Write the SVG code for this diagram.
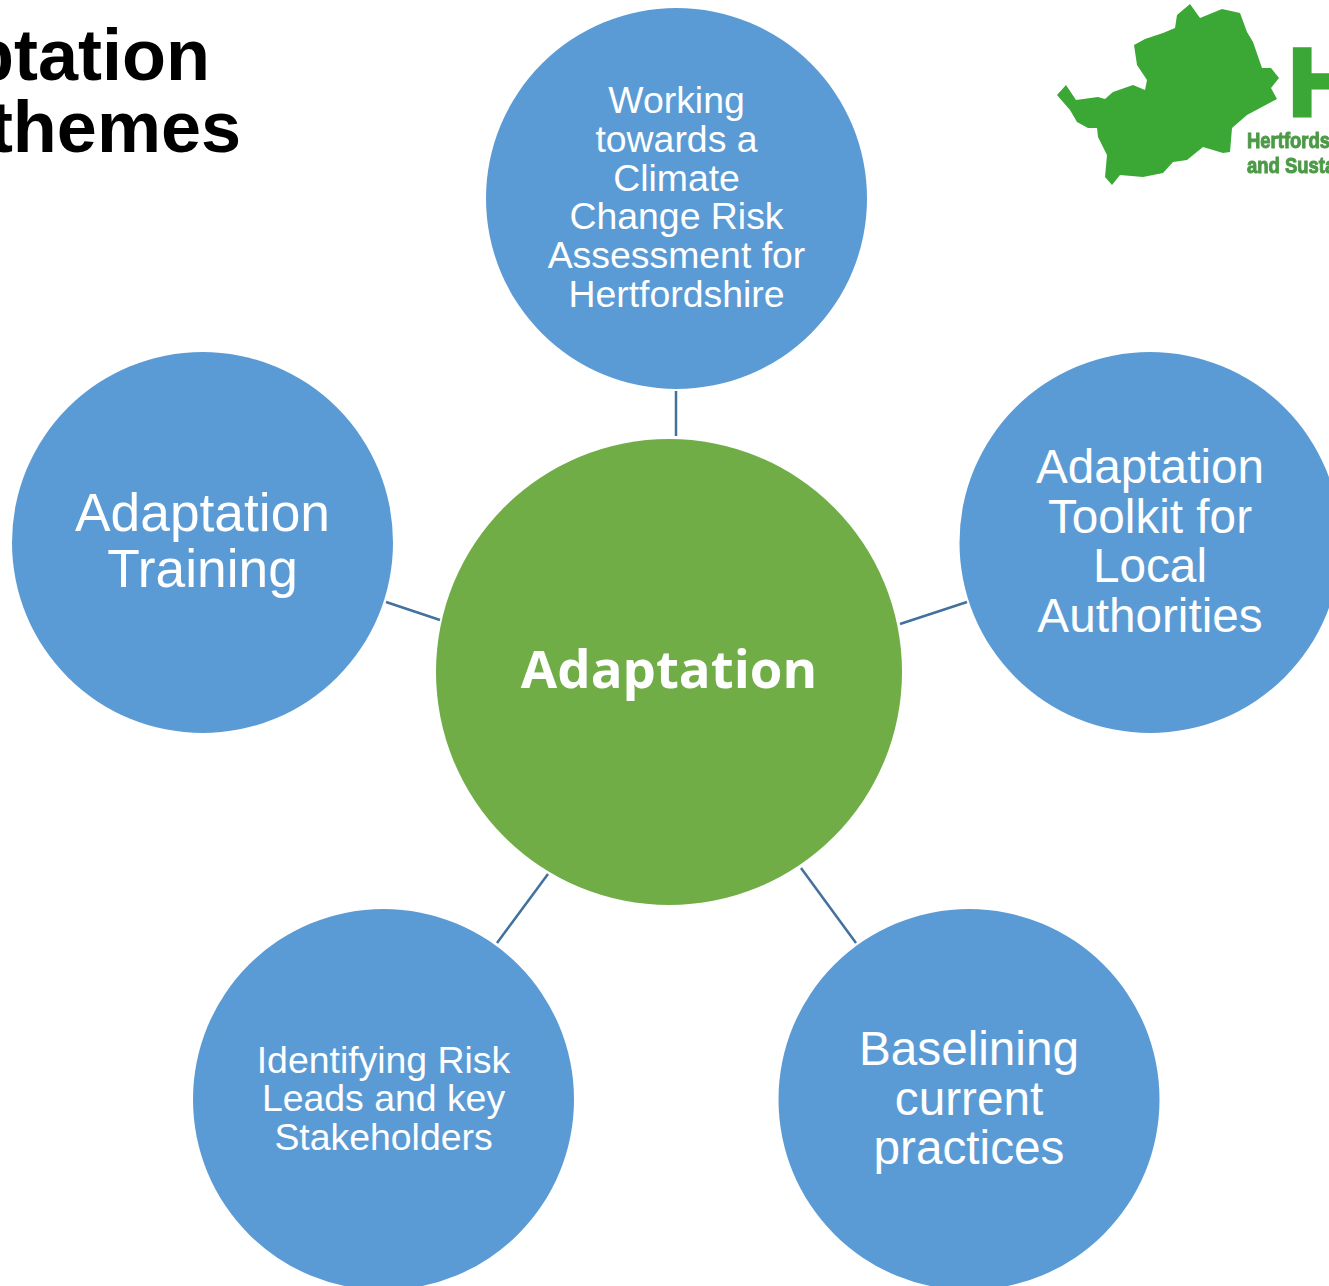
<svg xmlns="http://www.w3.org/2000/svg" width="1329" height="1286" viewBox="0 0 1329 1286">
<style>
.b{fill:#5b9bd5}
.t{fill:#fff;font-family:"Liberation Sans",Arial,sans-serif;text-anchor:middle}
.c{stroke:#41719c;stroke-width:2.5;fill:none}
.h{font-family:"Liberation Sans",Arial,sans-serif;font-weight:bold;font-size:72px;fill:#000}
.l{font-family:"Liberation Sans",Arial,sans-serif;font-weight:bold;fill:#4c9a46}
</style>
<defs><filter id="soft" x="-5%" y="-5%" width="110%" height="110%"><feGaussianBlur stdDeviation="0.7"/></filter></defs>
<rect width="1329" height="1286" fill="#fff"/>
<g id="title"><text class="h" x="210" y="80" text-anchor="end">ptation</text><text class="h" x="241" y="152" text-anchor="end">themes</text></g>
<g id="logo" filter="url(#soft)">
<path d="M1057 95L1066 85L1076 100L1098 97L1105 99L1113 92L1133 85L1145 90L1147 80L1137 65L1134 45L1145 39L1163 33L1175 28L1177 15L1190 4L1200 18L1222 9L1240 13L1247 32L1253 42L1262 68L1271 68L1279 78L1271 88L1277 99L1247 115L1232 128L1230 152L1223 153L1203 147L1187 160L1173 162L1163 173L1143 177L1120 175L1112 185L1105 177L1107 155L1098 137L1097 128L1088 128L1077 122L1070 110Z" fill="#3aa835"/>
<text class="l" x="1289" y="114.500" font-size="95" stroke="#3aa835" stroke-width="5" style="fill:#3aa835">H</text>
<text class="l" transform="translate(1247 148) scale(.84 1)" font-size="22" stroke="#4c9a46" stroke-width="1">Hertfordshire</text>
<text class="l" transform="translate(1247 173) scale(.84 1)" font-size="22" stroke="#4c9a46" stroke-width="1">and Sustainability</text>
</g>
<g id="connectors">
<line class="c" x1="676" y1="391" x2="676" y2="436"/>
<line class="c" x1="900" y1="624" x2="967" y2="602"/>
<line class="c" x1="801" y1="868" x2="856" y2="943"/>
<line class="c" x1="548" y1="874" x2="497" y2="943"/>
<line class="c" x1="386" y1="602" x2="440" y2="620"/>
</g>
<g id="center"><circle cx="669" cy="672" r="233" fill="#70ad47"/><text x="669" y="688" font-family="Open Sans,sans-serif" font-weight="bold" font-size="52.800" fill="#fff" text-anchor="middle">Adaptation</text></g>
<g id="n1"><circle class="b" cx="676.500" cy="198.500" r="190.500"/><text class="t" font-size="37.400"><tspan x="676.500" y="113">Working</tspan><tspan x="676.500" y="152">towards a</tspan><tspan x="676.500" y="191">Climate</tspan><tspan x="676.500" y="229">Change Risk</tspan><tspan x="676.500" y="268">Assessment for</tspan><tspan x="676.500" y="307">Hertfordshire</tspan></text></g>
<g id="n2"><circle class="b" cx="1150" cy="542.500" r="190.500"/><text class="t" font-size="47.700"><tspan x="1150" y="483">Adaptation</tspan><tspan x="1150" y="533">Toolkit for</tspan><tspan x="1150" y="582">Local</tspan><tspan x="1150" y="632">Authorities</tspan></text></g>
<g id="n3"><circle class="b" cx="969" cy="1099.500" r="190.500"/><text class="t" font-size="47.700"><tspan x="969" y="1065">Baselining</tspan><tspan x="969" y="1115">current</tspan><tspan x="969" y="1164">practices</tspan></text></g>
<g id="n4"><circle class="b" cx="383.500" cy="1099.500" r="190.500"/><text class="t" font-size="37.400"><tspan x="383.500" y="1073">Identifying Risk</tspan><tspan x="383.500" y="1111">Leads and key</tspan><tspan x="383.500" y="1150">Stakeholders</tspan></text></g>
<g id="n5"><circle class="b" cx="202.500" cy="542.500" r="190.500"/><text class="t" font-size="53.300"><tspan x="202.500" y="531">Adaptation</tspan><tspan x="202.500" y="587">Training</tspan></text></g>
</svg>
